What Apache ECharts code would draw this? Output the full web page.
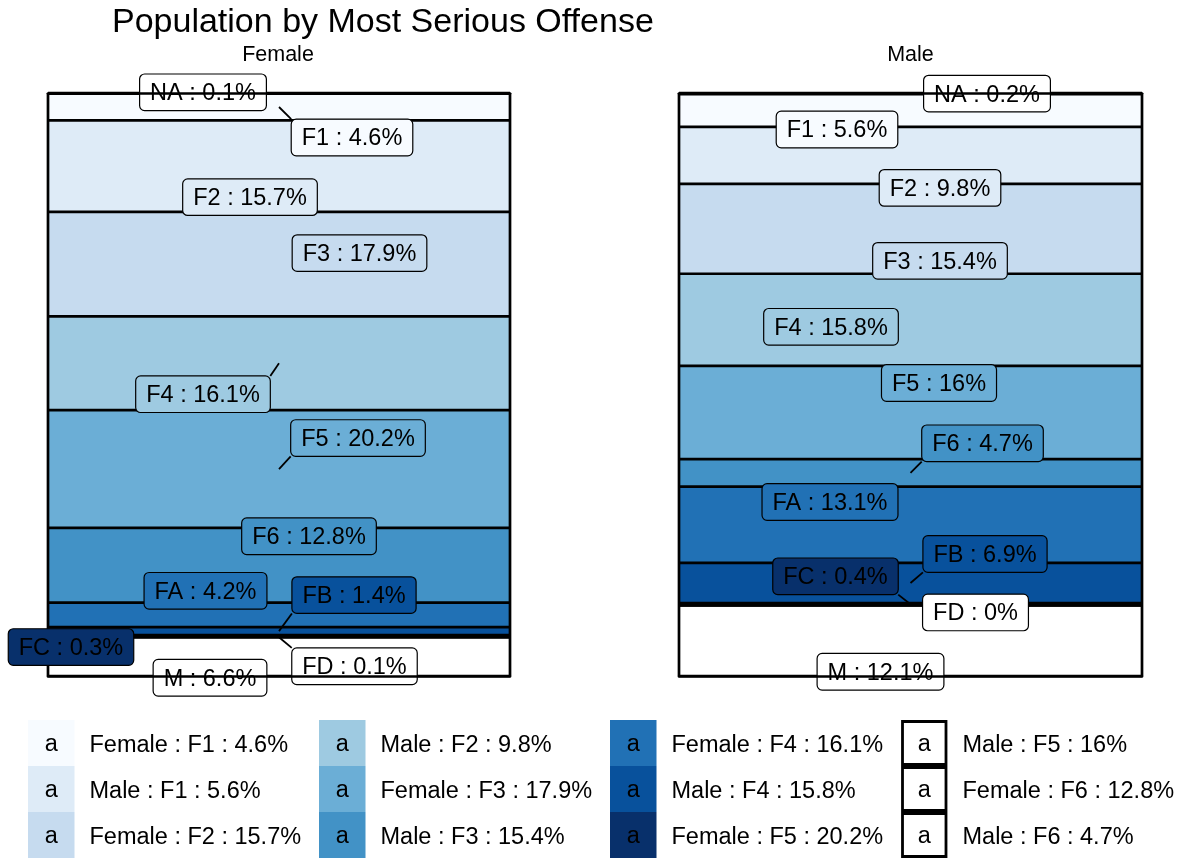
<!DOCTYPE html>
<html>
<head>
<meta charset="utf-8">
<script src="https://cdn.jsdelivr.net/npm/echarts@6/dist/echarts.min.js"></script>
<style>
html,body{margin:0;padding:0;background:#ffffff;}
#chart{width:1184px;height:859px;}
</style>
</head>
<body>
<div id="chart"></div>
<script>
// ---------------- data ----------------
const chartTitle = 'Population by Most Serious Offense';
const panels = ['Female', 'Male'];
const offenses = ['NA', 'F1', 'F2', 'F3', 'F4', 'F5', 'F6', 'FA', 'FB', 'FC', 'FD', 'M'];
const femalePct = [0.1, 4.6, 15.7, 17.9, 16.1, 20.2, 12.8, 4.2, 1.4, 0.3, 0.1, 6.6];
const malePct = [0.2, 5.6, 9.8, 15.4, 15.8, 16, 4.7, 13.1, 6.9, 0.4, 0, 12.1];
const legendLabels = [
  'Female : F1 : 4.6%', 'Male : F1 : 5.6%', 'Female : F2 : 15.7%',
  'Male : F2 : 9.8%', 'Female : F3 : 17.9%', 'Male : F3 : 15.4%',
  'Female : F4 : 16.1%', 'Male : F4 : 15.8%', 'Female : F5 : 20.2%',
  'Male : F5 : 16%', 'Female : F6 : 12.8%', 'Male : F6 : 4.7%'
];

// ---------------- style ----------------
const FONT = '"Liberation Sans", Arial, Helvetica, sans-serif';
const LABEL_SIZE = 23.5;
const EDGE_W = 2.7;
const offenseFill = ['#ffffff', '#f7fbff', '#deebf7', '#c6dbef', '#9ecae1', '#6baed6',
                     '#4292c6', '#2171b5', '#08519c', '#08306b', '#ffffff', '#ffffff'];
const legendFill = ['#f7fbff', '#deebf7', '#c6dbef', '#9ecae1', '#6baed6', '#4292c6',
                    '#2171b5', '#08519c', '#08306b', '#ffffff', '#ffffff', '#ffffff'];
// repel-style label nudges (pixels, relative to the segment anchor)
const labelNudge = {
  Female: [[-76, -1], [73, 30.5], [-29, 31], [80.5, -11], [-76, 31], [79, -31],
           [30, -29], [-73.5, -24], [75, -36], [-208, 11], [75.5, 29], [-69, 21]],
  Male:   [[76.5, 0], [-73.5, 19], [29.5, 32.5], [29.5, 32], [-79.5, 7], [28.5, -29.5],
           [72, -29.5], [-80.5, -22.7], [74.5, -29], [-75, -28], [65, 7], [-30, 31]]
};
const gridBox = [
  { left: 48, top: 93, width: 462, height: 583 },
  { left: 679, top: 93, width: 463, height: 583 }
];

const measureCtx = document.createElement('canvas').getContext('2d');
function textWidth(t, size) {
  measureCtx.font = size + 'px ' + FONT;
  return measureCtx.measureText(t).width;
}

const panelValues = [femalePct, malePct];

function makeBarSeries(pi) {
  return offenses.map((off, i) => ({
    type: 'bar',
    name: panels[pi] + ' ' + off,
    xAxisIndex: pi * 2,
    yAxisIndex: pi,
    stack: 'stack' + pi,
    barWidth: '100%',
    z: 2,
    silent: true,
    data: [panelValues[pi][i]],
    itemStyle: { color: offenseFill[i], borderWidth: 0 },
    label: { show: false }
  }));
}

// segment outlines: boundary lines at the stacked cumulative values + side edges
function makeEdgeSeries(pi) {
  const vals = panelValues[pi];
  const bounds = [0];
  vals.forEach(v => bounds.push(bounds[bounds.length - 1] + v));
  return {
    type: 'custom',
    xAxisIndex: pi * 2,
    yAxisIndex: pi,
    z: 3,
    clip: false,
    silent: true,
    data: bounds.map((b, k) => [0, b, k]),
    renderItem: function (params, api) {
      const p = api.coord([api.value(0), api.value(1)]);
      const half = api.size([1, 0])[0] / 2;
      const children = [{ type: 'line', shape: { x1: p[0] - half, y1: p[1], x2: p[0] + half, y2: p[1] },
                          style: { stroke: '#000000', lineWidth: EDGE_W } }];
      if (api.value(2) === 0) {
        const q = api.coord([api.value(0), bounds[bounds.length - 1]]);
        children.push({ type: 'line', shape: { x1: p[0] - half, y1: p[1], x2: q[0] - half, y2: q[1] },
                        style: { stroke: '#000000', lineWidth: EDGE_W } });
        children.push({ type: 'line', shape: { x1: p[0] + half, y1: p[1], x2: q[0] + half, y2: q[1] },
                        style: { stroke: '#000000', lineWidth: EDGE_W } });
      }
      return { type: 'group', children: children };
    }
  };
}

function makeLabelSeries(pi) {
  const vals = panelValues[pi];
  let cum = 0;
  const data = vals.map((v, i) => { const mid = cum + v / 2; cum += v; return [0, mid, i]; });
  const PADX = 10.5, BOXH = 36.6;
  return {
    type: 'custom',
    xAxisIndex: pi * 2,
    yAxisIndex: pi,
    z: 5,
    clip: false,
    silent: true,
    data: data,
    renderItem: function (params, api) {
      const i = api.value(2);
      const p = api.coord([api.value(0), api.value(1)]);
      const nudge = labelNudge[panels[pi]][i];
      const text = offenses[i] + ' : ' + vals[i] + '%';
      const w = textWidth(text, LABEL_SIZE) + 2 * PADX;
      const h = BOXH;
      const cx = p[0] + nudge[0], cy = p[1] + nudge[1];
      const x0 = cx - w / 2, y0 = cy - h / 2;
      const nx = Math.min(Math.max(p[0], x0), x0 + w);
      const ny = Math.min(Math.max(p[1], y0), y0 + h);
      const d = Math.hypot(nx - p[0], ny - p[1]);
      const children = [];
      if (d > 15) {
        children.push({ type: 'line', shape: { x1: p[0], y1: p[1], x2: nx, y2: ny },
                        style: { stroke: '#000000', lineWidth: 1.8 } });
      }
      children.push({ type: 'rect', shape: { x: x0, y: y0, width: w, height: h, r: 5 },
                      style: { fill: offenseFill[i], stroke: '#000000', lineWidth: 1.2 } });
      children.push({ type: 'text', style: { text: text, x: cx, y: cy + 1.5, align: 'center',
                      verticalAlign: 'middle', fontSize: LABEL_SIZE, fontFamily: FONT, fill: '#000000' } });
      return { type: 'group', children: children };
    }
  };
}

function frameAxis(pi, position) {
  return {
    gridIndex: pi, type: 'category', data: [panels[pi]], position: position, z: 10,
    axisLine: { show: true, onZero: false, lineStyle: { color: '#000000', width: EDGE_W } },
    axisTick: { show: false }, axisLabel: { show: false }, splitLine: { show: false }
  };
}

// legend built from the legend arrays
const LEG = { left0: 28, colStep: 291, top0: 720, rowStep: 46, keyW: 46.5, keyH: 46, textGap: 61.5, rows: 3 };
const legendGraphics = [];
legendLabels.forEach((lab, k) => {
  const c = Math.floor(k / LEG.rows), r = k % LEG.rows;
  const x = LEG.left0 + c * LEG.colStep, y = LEG.top0 + r * LEG.rowStep;
  const white = legendFill[k] === '#ffffff';
  legendGraphics.push({
    type: 'rect',
    shape: white ? { x: x + 1.5, y: y + 1.5, width: LEG.keyW - 3, height: LEG.keyH - 3 }
                 : { x: x, y: y, width: LEG.keyW, height: LEG.keyH },
    style: white ? { fill: '#ffffff', stroke: '#000000', lineWidth: 2.8 } : { fill: legendFill[k] }
  });
  legendGraphics.push({
    type: 'text', x: x + LEG.keyW / 2, y: y + LEG.keyH / 2 + 2,
    style: { text: 'a', align: 'center', verticalAlign: 'middle', fontSize: LABEL_SIZE, fontFamily: FONT, fill: '#000000' }
  });
  legendGraphics.push({
    type: 'text', x: x + LEG.textGap, y: y + LEG.keyH / 2 + 2.5,
    style: { text: lab, align: 'left', verticalAlign: 'middle', fontSize: LABEL_SIZE, fontFamily: FONT, fill: '#000000' }
  });
});

const chart = echarts.init(document.getElementById('chart'), null, { renderer: 'canvas' });
chart.setOption({
  animation: false,
  backgroundColor: '#ffffff',
  title: [
    { text: chartTitle, left: 112, top: 6, padding: 0,
      textStyle: { fontSize: 34, fontWeight: 'normal', color: '#000000', fontFamily: FONT } },
    { text: panels[0], left: gridBox[0].left + gridBox[0].width / 2 - 1, textAlign: 'center', top: 44, padding: 0,
      textStyle: { fontSize: 21.5, fontWeight: 'normal', color: '#000000', fontFamily: FONT } },
    { text: panels[1], left: gridBox[1].left + gridBox[1].width / 2, textAlign: 'center', top: 44, padding: 0,
      textStyle: { fontSize: 21.5, fontWeight: 'normal', color: '#000000', fontFamily: FONT } }
  ],
  grid: gridBox.map(g => Object.assign({ containLabel: false }, g)),
  xAxis: [frameAxis(0, 'bottom'), frameAxis(0, 'top'), frameAxis(1, 'bottom'), frameAxis(1, 'top')],
  yAxis: [0, 1].map(pi => ({
    gridIndex: pi, type: 'value', inverse: true, min: 0, max: 100, show: false,
    splitLine: { show: false }
  })),
  graphic: legendGraphics,
  series: [].concat(makeBarSeries(0), makeBarSeries(1),
                    [makeEdgeSeries(0), makeEdgeSeries(1), makeLabelSeries(0), makeLabelSeries(1)])
});
</script>
</body>
</html>
